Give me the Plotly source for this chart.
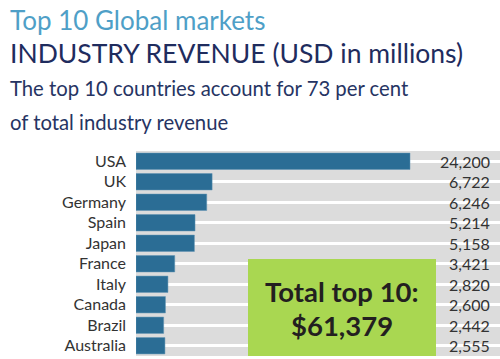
import plotly.graph_objects as go

countries = ["USA", "UK", "Germany", "Spain", "Japan", "France", "Italy", "Canada", "Brazil", "Australia"]
revenue = [24200, 6722, 6246, 5214, 5158, 3421, 2820, 2600, 2442, 2555]
value_labels = ["24,200", "6,722", "6,246", "5,214", "5,158", "3,421", "2,820", "2,600", "2,442", "2,555"]
total_label = "$61,379"

W, H = 500, 359
L, R, T, B = 136, 0, 151, 3
plot_w = W - L - R
plot_h = H - T - B

def px_x(px):
    return (px - L) / plot_w

def px_y(py):
    return (H - B - py) / plot_h

FONT = "Lato"

fig = go.Figure()
fig.add_trace(go.Bar(
    x=revenue, y=countries, orientation="h",
    marker=dict(color="#2b6d95", line=dict(color="#5f93b3", width=0.5)),
    width=0.8, hoverinfo="skip", showlegend=False,
))

annotations = []
for c, lab in zip(countries, value_labels):
    annotations.append(dict(
        x=px_x(492), xref="paper", y=c, yref="y", text=lab, showarrow=False,
        xanchor="right", yanchor="middle",
        font=dict(family=FONT, size=16, color="#333333"),
    ))

titles = [
    ("Top 10 Global markets", 20, 26, "#4f9fc7"),
    ("INDUSTRY REVENUE (USD in millions)", 53, 26.5, "#1f2c5e"),
    ("The top 10 countries account for 73 per cent", 88, 20.3, "#263463"),
    ("of total industry revenue", 122, 20.3, "#263463"),
]
for txt, yc, sz, col in titles:
    annotations.append(dict(
        x=px_x(8), xref="paper", y=px_y(yc), yref="paper", text=txt,
        showarrow=False, xanchor="left", yanchor="middle",
        font=dict(family=FONT, size=sz, color=col),
    ))

box_cx = px_x((248 + 436) / 2)
annotations.append(dict(
    x=box_cx, xref="paper", y=px_y(291), yref="paper", text="<b>Total top 10:</b>",
    showarrow=False, xanchor="center", yanchor="middle",
    font=dict(family=FONT, size=27.5, color="#231f20"),
))
annotations.append(dict(
    x=box_cx, xref="paper", y=px_y(325), yref="paper", text="<b>" + total_label + "</b>",
    showarrow=False, xanchor="center", yanchor="middle",
    font=dict(family=FONT, size=27.5, color="#231f20"),
))

shapes = [dict(
    type="rect", xref="paper", yref="paper",
    x0=px_x(248), x1=px_x(436), y0=0, y1=px_y(259),
    fillcolor="#a9d751", line=dict(width=0), layer="above",
)]

xmax = 24200 * plot_w / 274.0

fig.update_layout(
    width=W, height=H,
    margin=dict(l=L, r=R, t=T, b=B, pad=0),
    paper_bgcolor="white", plot_bgcolor="#dcdcdc",
    bargap=0.2,
    xaxis=dict(range=[0, xmax], showgrid=False, zeroline=False, showticklabels=False, fixedrange=True),
    yaxis=dict(
        categoryorder="array", categoryarray=countries, range=[9.5, -0.5],
        showgrid=True, gridcolor="white", gridwidth=2.5, zeroline=False,
        ticks="", ticklabelstandoff=9, fixedrange=True,
        tickfont=dict(family=FONT, size=16, color="#333333"),
    ),
    annotations=annotations, shapes=shapes,
    font=dict(family=FONT),
)

fig.write_html(
    "out.html",
    config={"displayModeBar": False},
    post_script="document.body.style.margin='0';document.body.style.overflow='hidden';",
)
